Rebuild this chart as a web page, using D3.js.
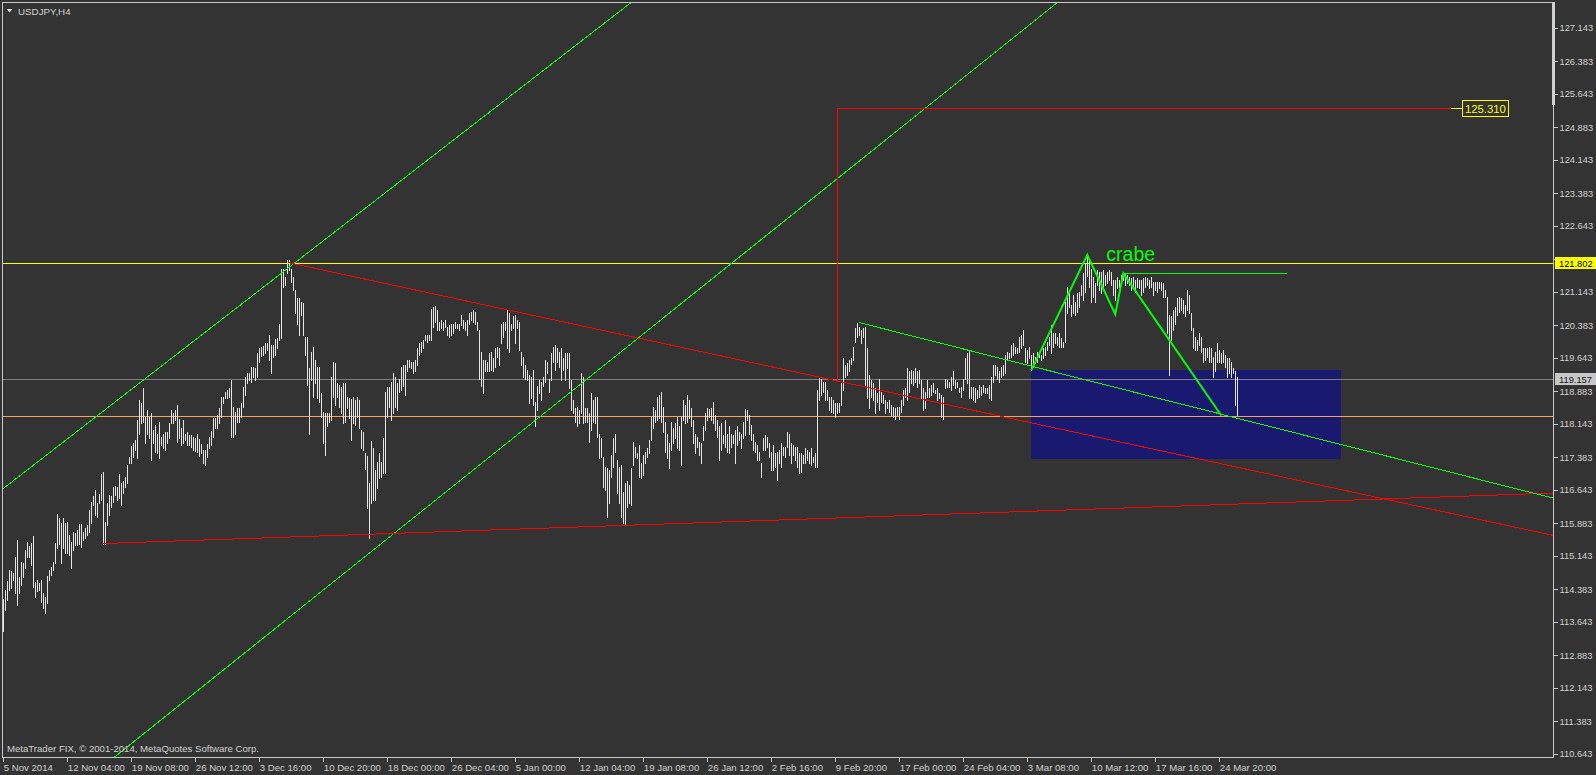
<!DOCTYPE html>
<html><head><meta charset="utf-8">
<script src="https://cdn.jsdelivr.net/npm/d3@7"></script>
<style>
html,body{margin:0;padding:0;background:#333333;overflow:hidden;}
svg{display:block;}
</style></head><body>
<svg id="chart" width="1596" height="775"></svg>
<script>
// ---------- data ----------
const symbol = "USDJPY,H4";
const copyright = "MetaTrader FIX, \u00a9 2001-2014, MetaQuotes Software Corp.";
const highs = [
114.15,114.36,114.57,114.82,114.80,114.74,115.12,115.50,114.67,115.01,
114.97,115.27,115.46,115.37,115.44,115.58,114.55,114.59,114.53,114.59,
114.29,114.21,114.68,114.82,114.89,115.01,115.44,116.09,115.99,115.88,
116.01,115.89,115.92,115.61,115.46,115.69,115.65,115.73,115.86,115.86,
115.69,115.77,115.83,116.18,116.37,116.49,116.64,116.33,116.54,117.01,
117.05,115.92,116.33,116.52,116.49,116.71,116.73,116.71,117.01,116.79,
116.83,116.94,117.20,117.39,117.64,117.70,117.77,118.23,118.68,118.61,
118.95,118.30,118.45,118.30,118.38,118.00,118.11,117.92,118.19,117.85,
117.92,117.95,117.96,118.15,118.45,118.38,118.45,118.57,118.26,118.04,
118.23,117.92,117.96,117.89,117.89,117.85,117.81,117.92,117.79,
117.68,117.55,117.55,117.68,117.85,117.98,118.27,118.27,118.34,118.49,118.76,
118.76,118.87,118.91,118.95,119.14,118.53,118.42,118.49,118.49,118.61,
118.98,119.21,119.29,119.29,119.44,119.44,119.40,119.74,119.86,119.88,
119.91,119.97,119.98,120.16,119.93,119.93,120.06,120.08,120.42,121.67,
121.67,121.48,121.86,121.86,121.67,121.48,121.18,120.99,120.99,120.92,
120.88,120.12,120.12,119.40,119.78,119.89,119.59,119.44,119.44,118.83,
118.42,118.38,118.38,118.38,119.21,119.55,119.52,119.06,119.02,118.97,
119.06,119.06,118.76,118.72,118.70,118.76,118.68,118.76,118.68,118.00,
117.96,117.47,117.41,116.79,117.74,117.58,117.09,117.28,117.47,117.28,
117.81,118.87,118.98,118.98,119.10,119.29,119.21,119.06,
119.17,119.44,119.48,119.48,119.59,119.59,119.55,119.55,119.59,119.86,119.97,120.01,
120.05,120.16,120.16,120.16,120.76,120.80,120.82,120.73,120.46,120.50,
120.46,120.50,120.35,120.39,120.42,120.42,120.46,120.42,120.42,120.61,
120.50,120.46,120.50,120.65,120.69,120.73,120.69,120.46,120.27,119.78,
119.59,119.59,119.55,119.74,119.78,119.63,119.86,119.89,119.86,120.42,
120.46,120.46,120.73,120.65,120.42,120.58,120.61,120.50,120.46,119.78,
119.67,119.48,119.36,119.25,119.21,119.36,118.64,118.99,119.14,119.10,
119.21,119.59,119.55,119.17,119.74,119.89,119.93,119.86,119.78,119.86,
119.63,119.74,119.74,119.74,119.14,118.68,118.49,118.53,118.45,119.29,
119.21,118.49,118.49,118.38,118.83,118.68,118.76,118.76,117.92,117.81,
117.39,117.17,117.13,117.09,
117.43,117.81,117.92,117.32,117.17,117.20,
116.60,116.79,116.83,116.75,117.13,117.73,117.62,117.47,117.66,117.24,
117.43,117.51,117.58,117.77,118.30,118.53,118.45,118.76,118.80,118.87,
118.53,118.19,117.92,117.70,118.19,118.04,118.15,118.30,118.08,118.30,
118.68,118.57,118.80,118.68,118.49,118.23,117.92,117.85,117.73,117.70,
118.08,118.38,118.49,118.47,118.49,118.64,118.34,118.23,118.08,118.15,
117.89,118.23,117.92,118.08,117.92,117.89,118.00,118.08,117.96,117.92,
118.19,118.47,118.45,118.34,118.11,117.92,117.73,117.66,117.51,117.24,
117.81,117.89,117.85,117.70,117.51,117.66,117.47,117.51,117.55,117.70,
117.62,117.62,117.96,117.92,117.70,117.66,117.62,117.62,117.47,117.47,
117.43,117.58,117.55,117.51,117.58,117.39,117.47,118.91,119.21,
119.17,119.10,119.10,118.91,118.76,118.76,118.68,118.61,118.61,118.61,119.06,
119.63,119.48,119.52,119.59,119.63,119.89,120.31,120.44,120.35,120.27,
120.31,120.35,119.86,119.25,119.14,119.06,118.95,118.83,119.17,118.87,
118.80,118.68,118.64,118.68,118.57,118.53,118.49,118.53,118.53,118.68,
118.91,118.95,119.40,119.33,119.36,119.33,119.40,119.33,119.36,119.14,
118.95,118.87,119.14,118.95,119.02,119.06,118.91,118.95,118.83,118.80,
118.76,119.17,119.14,119.10,119.21,119.33,119.14,119.10,118.95,118.98,
119.17,119.63,119.74,119.82,118.98,118.98,118.95,118.91,119.02,118.98,
119.02,118.95,118.95,119.02,119.21,119.48,119.48,119.44,119.33,119.44,
119.48,119.70,119.78,119.74,119.93,119.97,119.89,119.86,120.12,
120.16,120.27,119.86,119.82,119.89,119.70,119.74,119.67,119.78,119.78,119.70,
119.86,119.89,120.01,120.12,120.39,120.20,120.20,120.12,120.20,120.08,
120.01,120.92,121.26,121.14,120.84,121.07,120.92,121.11,121.14,121.30,
121.56,121.79,121.98,121.86,121.67,121.48,121.33,121.64,121.60,121.60,
121.64,121.52,121.60,121.64,121.60,121.41,121.41,121.48,121.41,121.52,
121.56,121.56,121.52,121.48,121.45,121.48,121.41,121.45,121.41,121.41,
121.45,121.48,121.45,121.41,121.48,121.37,121.37,121.37,121.37,121.37,
121.33,121.18,121.03,120.61,120.58,120.73,120.80,120.99,121.03,120.99,
120.95,120.84,121.18,121.07,120.65,120.31,120.12,120.05,120.20,120.12,
119.86,119.86,119.86,119.89,119.86,119.67,119.78,119.97,119.82,119.74,
119.82,119.70,119.63,119.63,119.55,119.40,119.33,119.20
];
const lows = [
113.43,113.92,114.14,114.36,114.40,114.59,114.29,114.02,114.29,114.48,
114.67,114.86,115.12,115.12,114.93,114.44,114.21,114.33,114.36,114.10,
113.95,113.83,114.06,114.59,114.70,114.82,114.98,115.31,115.42,114.98,
115.31,115.20,115.20,115.16,114.86,115.27,115.39,115.39,115.42,115.35,
115.50,115.54,115.61,115.69,115.88,116.30,116.07,116.03,116.35,116.41,
115.42,115.42,115.84,116.07,116.26,116.37,116.52,116.41,116.45,116.30,
116.56,116.71,116.79,117.24,117.24,117.39,117.55,117.36,117.92,118.15,
118.19,117.70,117.92,117.81,117.32,117.70,117.51,117.47,117.36,117.66,
117.58,117.55,117.70,117.81,118.15,118.15,118.23,117.73,117.81,117.66,
117.70,117.77,117.66,117.66,117.62,117.55,117.53,117.51,117.41,
117.47,117.24,117.20,117.39,117.58,117.66,117.85,118.05,118.04,118.15,118.30,
118.61,118.72,118.72,118.76,117.85,117.85,117.92,118.19,118.19,118.30,
118.53,118.80,119.06,119.14,119.10,119.21,119.14,119.21,119.55,119.68,
119.70,119.74,119.82,119.59,119.30,119.67,119.70,119.86,120.05,120.08,
121.26,121.30,121.56,121.64,121.37,121.18,120.65,120.42,120.16,120.61,
120.16,119.70,119.02,117.92,119.14,118.76,119.06,118.72,118.64,118.30,
117.70,117.43,118.08,118.19,118.23,118.76,118.57,118.76,118.53,118.38,
118.15,118.19,118.49,118.27,117.77,118.15,118.11,118.30,118.04,117.58,
117.55,117.11,116.22,115.54,116.33,116.41,116.41,116.69,116.90,116.94,
117.02,117.02,118.30,118.53,118.23,118.38,118.53,118.45,
118.87,118.91,118.99,118.80,119.33,119.44,119.40,119.29,119.33,119.48,119.70,119.78,
119.86,120.05,120.01,120.05,120.05,120.35,120.46,120.27,120.27,120.31,
120.27,120.35,120.16,120.12,120.16,120.20,120.31,120.31,120.27,120.39,
120.31,120.27,120.16,120.42,120.50,120.46,120.42,120.27,119.17,118.99,
118.83,119.33,119.33,119.33,119.36,119.33,119.44,119.67,119.48,119.97,
120.12,120.27,119.86,119.78,120.27,120.31,119.97,120.31,119.82,119.48,
119.21,119.17,119.14,118.61,118.72,118.57,118.08,118.46,118.83,118.68,
118.99,119.10,119.29,118.87,119.14,119.55,119.36,119.55,119.44,119.14,
119.36,119.14,119.40,118.95,118.46,118.38,118.19,118.08,118.15,118.38,
118.15,118.19,118.19,117.73,118.00,118.19,118.15,117.85,117.36,117.39,
116.71,116.64,116.03,116.33,
116.94,117.17,117.51,116.56,116.33,116.03,
115.88,115.84,116.26,116.33,116.30,117.20,117.39,117.36,116.94,116.90,
116.98,117.24,117.39,117.47,117.77,118.04,118.19,118.23,118.27,118.19,
117.96,117.51,117.36,117.13,117.55,117.70,117.81,117.58,117.55,117.20,
118.23,118.15,118.19,118.27,118.08,117.70,117.47,117.62,117.43,117.24,
117.77,118.00,118.23,118.30,118.23,118.15,118.00,117.85,117.32,117.55,
117.70,117.62,117.51,117.47,117.62,117.70,117.24,117.66,117.77,117.58,
117.81,117.89,118.23,117.92,117.77,117.55,117.51,117.32,117.32,116.94,
117.55,117.55,117.62,117.39,117.09,117.09,117.17,116.86,117.24,117.17,
117.43,117.39,117.62,117.43,117.24,117.43,117.32,117.17,117.02,117.05,
117.24,117.24,117.32,117.24,117.20,117.28,117.17,117.17,118.68,
118.79,118.87,118.68,118.68,118.45,118.42,118.38,118.30,118.38,118.42,118.57,
118.91,119.21,119.25,119.33,119.51,119.59,120.01,120.12,120.16,119.97,
120.12,119.02,118.72,118.49,118.76,118.68,118.38,118.64,118.45,118.64,
118.61,118.38,118.49,118.42,118.34,118.30,118.26,118.34,118.26,118.42,
118.57,118.76,118.68,118.87,119.06,119.02,119.10,118.98,119.06,118.72,
118.45,118.49,118.76,118.76,118.79,118.87,118.83,118.68,118.72,118.30,
118.26,118.95,118.98,118.98,118.91,119.02,118.95,118.98,118.87,118.76,
118.91,119.17,119.06,118.72,118.72,118.68,118.64,118.72,118.76,118.79,
118.87,118.83,118.83,118.72,118.68,119.10,119.25,119.17,119.10,119.21,
119.25,119.29,119.59,119.63,119.67,119.70,119.74,119.74,119.78,
119.86,119.93,119.55,119.52,119.63,119.36,119.44,119.52,119.55,119.67,119.59,
119.63,119.70,119.82,119.93,119.74,119.89,119.97,119.93,119.89,119.89,
119.89,120.01,120.65,120.80,120.58,120.65,120.61,120.69,120.80,121.07,
120.95,121.14,121.49,121.26,120.92,121.03,120.92,121.30,121.18,121.11,
121.26,121.30,121.33,121.41,121.30,121.07,120.95,121.22,121.26,121.33,
121.41,121.30,121.33,121.30,121.18,121.22,121.14,121.26,121.22,121.07,
121.14,121.26,121.30,121.22,121.26,121.07,121.18,121.14,121.22,121.18,
121.03,121.03,120.20,119.25,120.05,120.27,120.42,120.61,120.69,120.73,
120.65,120.58,120.73,120.65,120.27,119.86,119.82,119.82,119.93,119.78,
119.55,119.59,119.67,119.55,119.55,119.21,119.33,119.55,119.55,119.52,
119.55,119.44,119.21,119.29,119.21,119.29,118.57,118.33
];
const timeLabels = ["5 Nov 2014","12 Nov 04:00","19 Nov 08:00","26 Nov 12:00","3 Dec 16:00",
  "10 Dec 20:00","18 Dec 00:00","26 Dec 04:00","5 Jan 00:00","12 Jan 04:00","19 Jan 08:00",
  "26 Jan 12:00","2 Feb 16:00","9 Feb 20:00","17 Feb 00:00","24 Feb 04:00","3 Mar 08:00",
  "10 Mar 12:00","17 Mar 16:00","24 Mar 20:00"];
const barsPerLabel = 32;
const priceTicks = [127.143,126.383,125.643,124.883,124.143,123.383,122.643,121.883,121.143,
  120.383,119.643,118.883,118.143,117.383,116.643,115.883,115.143,114.383,113.643,112.883,
  112.143,111.383,110.643];
const yellowLevel = 121.802;
const bidLevel = 119.157;
const orangeLevel = 118.318;
const targetLevel = 125.310;
// trend objects: [bar index, price]
const channelUpper = [[0,116.67],[160,122.30]];
const channelLower = [[56,110.58],[528,127.75]];
const redResistance = [[143,121.80],[600,117.32]];
const redSupport = [[50,115.42],[600,116.29]];
const greenTrend = [[428,120.44],[775,116.45]];
const crabPoints = [[514,119.36],[542,121.98],[556,120.63],[560,121.56],[609,118.33]];
const crabLevelEnd = 642;
const targetBar = 417, targetEndBar = 724;
const zoneBars = [514, 669];
const zonePrices = [119.363, 117.34];
const patternName = "crabe";

// ---------- layout ----------
const W = 1596, H = 775;
const P = {l: 2, r: 1553, t: 2, b: 757};
const font = "'Liberation Sans', Arial, sans-serif";
const txt = "#d2d2d2";

const svg = d3.select("#chart");
svg.append("rect").attr("width", W).attr("height", H).attr("fill", "#333333");

const x = d3.scaleLinear().domain([0, 775]).range([3.3, 1553.3]);
const y = d3.scaleLinear().domain([110.643, 127.143]).range([753.7, 27.7]);

svg.append("clipPath").attr("id", "plotclip").append("rect")
  .attr("x", P.l).attr("y", P.t).attr("width", P.r - P.l).attr("height", P.b - P.t);
const g = svg.append("g").attr("clip-path", "url(#plotclip)");

const lineAt = (pts, b) => pts[0][1] + (pts[1][1] - pts[0][1]) / (pts[1][0] - pts[0][0]) * (b - pts[0][0]);
const bL = x.invert(P.l - 2), bR = x.invert(P.r + 2);

// zone rectangle (background)
g.append("rect")
  .attr("x", Math.round(x(zoneBars[0]))).attr("y", Math.round(y(zonePrices[0])))
  .attr("width", Math.round(x(zoneBars[1])) - Math.round(x(zoneBars[0])))
  .attr("height", Math.round(y(zonePrices[1])) - Math.round(y(zonePrices[0])))
  .attr("fill", "#191970");

// horizontal levels
function hline(level, color) {
  const yy = Math.round(y(level)) + 0.5;
  g.append("line").attr("x1", P.l).attr("x2", P.r).attr("y1", yy).attr("y2", yy)
    .attr("stroke", color).attr("stroke-width", 1).attr("shape-rendering", "crispEdges");
}
hline(orangeLevel, "#f4a460");
hline(bidLevel, "#808080");
hline(yellowLevel, "#ffff00");

// bars
const n = Math.min(highs.length, lows.length);
const bars = d3.range(n);
g.append("g").selectAll("line").data(bars).join("line")
  .attr("x1", i => Math.round(x(i)) + 0.5).attr("x2", i => Math.round(x(i)) + 0.5)
  .attr("y1", i => Math.round(y(highs[i])))
  .attr("y2", i => Math.round(y(lows[i])) + 1)
  .attr("stroke", "#e4e4e4").attr("stroke-width", 1).attr("shape-rendering", "crispEdges");

// trend lines
const lg = d3.line().x(d => x(d[0])).y(d => y(d[1]));
function fullLine(pts, color) {
  g.append("path").attr("d", lg([[bL, lineAt(pts, bL)], [bR, lineAt(pts, bR)]]))
    .attr("stroke", color).attr("fill", "none").attr("stroke-width", 1).attr("shape-rendering", "crispEdges");
}
function ray(pts, color) {
  g.append("path").attr("d", lg([pts[0], [bR, lineAt(pts, bR)]]))
    .attr("stroke", color).attr("fill", "none").attr("stroke-width", 1).attr("shape-rendering", "crispEdges");
}
fullLine(channelUpper, "#00ff00");
fullLine(channelLower, "#00ff00");
ray(redResistance, "#ff0000");
ray(redSupport, "#ff0000");
ray(greenTrend, "#00ff00");

// target path
const tStart = lineAt(redResistance, targetBar);
g.append("path").attr("d", lg([[targetBar, tStart], [targetBar, targetLevel], [targetEndBar, targetLevel]]))
  .attr("stroke", "#ff0000").attr("fill", "none").attr("stroke-width", 1).attr("shape-rendering", "crispEdges");
const ty = Math.round(y(targetLevel)) + 0.5;
const boxX = Math.round(x(targetEndBar)) + 11;
g.append("line").attr("x1", Math.round(x(targetEndBar))).attr("x2", boxX).attr("y1", ty).attr("y2", ty)
  .attr("stroke", "#ffff00").attr("shape-rendering", "crispEdges");
g.append("rect").attr("x", boxX + 0.5).attr("y", ty - 8).attr("width", 46).attr("height", 16)
  .attr("fill", "none").attr("stroke", "#ffff00").attr("shape-rendering", "crispEdges");
g.append("text").attr("x", boxX + 3).attr("y", ty + 4.5).text(targetLevel.toFixed(3))
  .attr("fill", "#ffff00").attr("font-family", font).attr("font-size", "11.3px");

// crab pattern
g.append("path").attr("d", lg(crabPoints)).attr("stroke", "#00ff00").attr("fill", "none").attr("stroke-width", 2);
g.append("path").attr("d", lg([crabPoints[3], [crabLevelEnd, crabPoints[3][1]]]))
  .attr("stroke", "#00ff00").attr("fill", "none").attr("stroke-width", 1).attr("shape-rendering", "crispEdges");
g.append("text").attr("x", x(crabPoints[1][0]) + 19).attr("y", y(crabPoints[1][1]) + 6)
  .text(patternName).attr("fill", "#00ff00").attr("font-family", font).attr("font-size", "19.5px");

// copyright & title
svg.append("text").attr("x", 7).attr("y", 752).text(copyright)
  .attr("fill", txt).attr("font-family", font).attr("font-size", "9.6px");
svg.append("path").attr("d", "M6.5,9 L12.5,9 L9.5,12.5 Z").attr("fill", "#e0e0e0");
svg.append("text").attr("x", 18).attr("y", 14.5).text(symbol)
  .attr("fill", txt).attr("font-family", font).attr("font-size", "9.8px");

// frame
svg.append("rect").attr("x", P.l + 0.5).attr("y", P.t + 0.5).attr("width", P.r - P.l).attr("height", P.b - P.t)
  .attr("fill", "none").attr("stroke", "#c8c8c8").attr("shape-rendering", "crispEdges");
svg.append("rect").attr("x", P.r - 1).attr("y", P.t).attr("width", 3).attr("height", 103).attr("fill", "#d0d0d0");

// price axis
const yAxis = d3.axisRight(y).tickValues(priceTicks).tickFormat(d3.format(".3f")).tickSize(4).tickPadding(2).tickSizeOuter(0);
const ya = svg.append("g").attr("transform", `translate(${P.r + 0.5},0)`).call(yAxis);
ya.select(".domain").remove();
ya.selectAll(".tick line").attr("stroke", "#c8c8c8").attr("shape-rendering", "crispEdges");
ya.selectAll(".tick text").attr("fill", txt).attr("font-family", font).attr("font-size", "9.3px");

// time axis
const xAxis = d3.axisBottom(x).tickValues(timeLabels.map((d, i) => i * barsPerLabel))
  .tickFormat((d, i) => timeLabels[i]).tickSize(4).tickPadding(3).tickSizeOuter(0);
const xa = svg.append("g").attr("transform", `translate(0,${P.b + 0.5})`).call(xAxis);
xa.select(".domain").remove();
xa.selectAll(".tick line").attr("stroke", "#c8c8c8").attr("shape-rendering", "crispEdges");
xa.selectAll(".tick text").attr("fill", txt).attr("font-family", font).attr("font-size", "9.6px")
  .attr("text-anchor", "start").attr("x", 0);

// price label boxes on axis
function axisBox(level, bg, fg) {
  const yy = Math.round(y(level));
  svg.append("rect").attr("x", P.r + 2).attr("y", yy - 6).attr("width", W - P.r - 2).attr("height", 12).attr("fill", bg);
  svg.append("text").attr("x", P.r + 6).attr("y", yy + 3.5).text(level.toFixed(3))
    .attr("fill", fg).attr("font-family", font).attr("font-size", "9.3px");
}
axisBox(yellowLevel, "#ffff00", "#000000");
axisBox(bidLevel, "#c8c8c8", "#111111");

if (highs.length !== lows.length) {
  svg.append("text").attr("x", 600).attr("y", 40).attr("fill", "red").text(`len mismatch ${highs.length} ${lows.length}`);
}
</script>
</body></html>
